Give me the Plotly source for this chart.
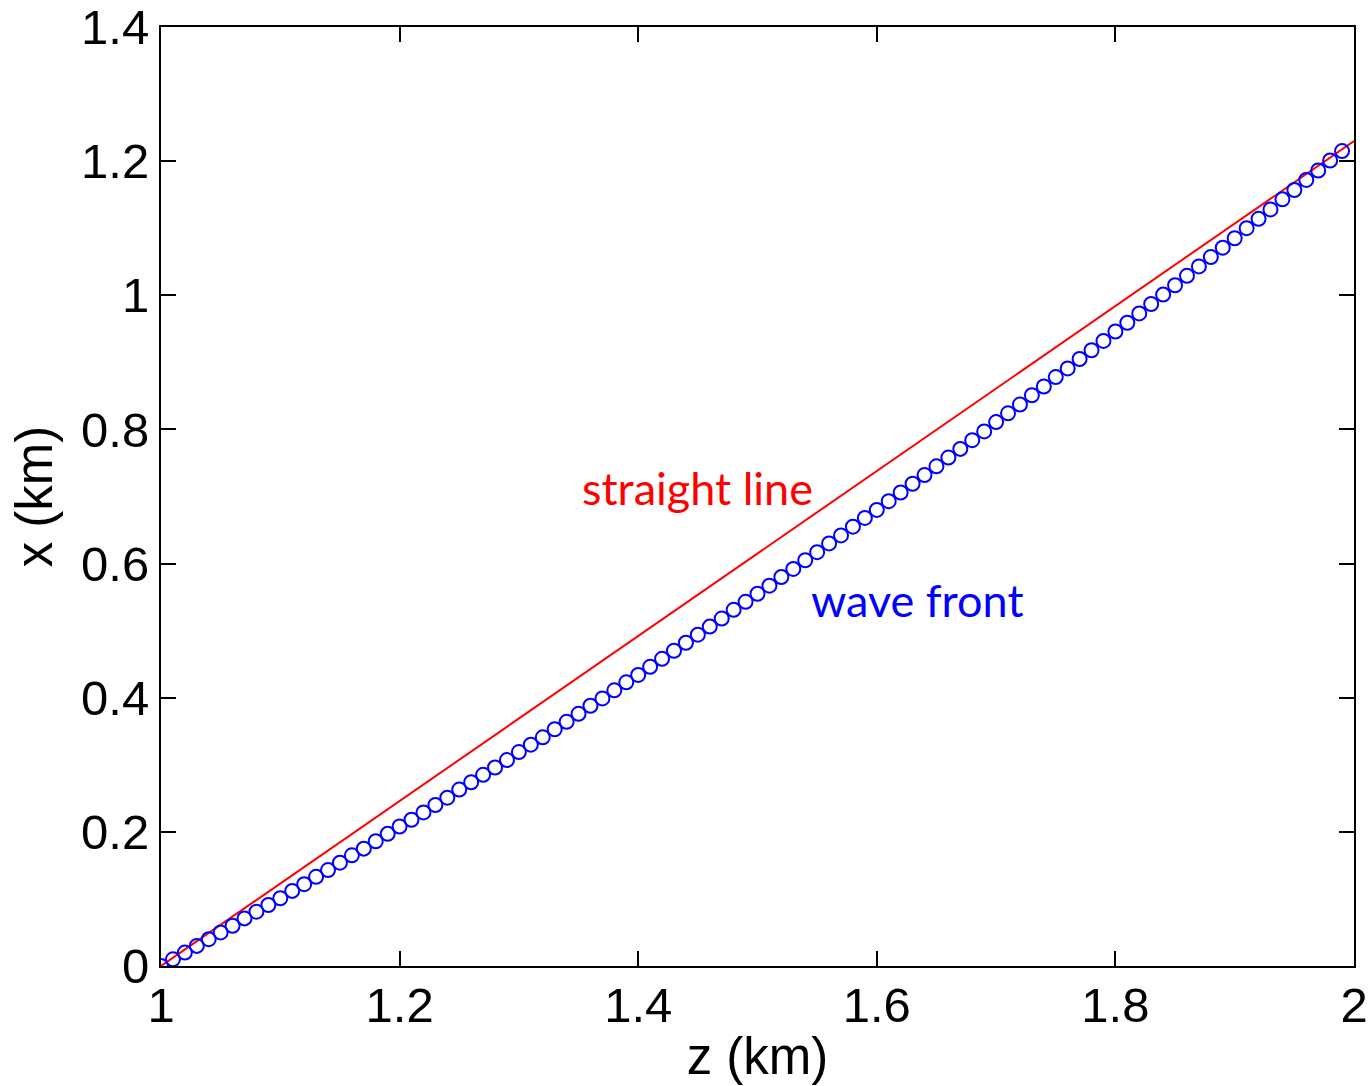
import plotly.graph_objects as go

# Sampled wave-front positions: depth z (km) and lateral offset x (km)
z_front = [round(1.0 + 0.01 * i, 2) for i in range(100)]
x_front = [
    0.000, 0.010, 0.020, 0.030, 0.040, 0.050, 0.060, 0.071, 0.081, 0.091,
    0.101, 0.112, 0.122, 0.133, 0.143, 0.154, 0.165, 0.175, 0.186, 0.197,
    0.208, 0.218, 0.229, 0.240, 0.251, 0.263, 0.274, 0.285, 0.296, 0.307,
    0.319, 0.330, 0.341, 0.353, 0.364, 0.376, 0.388, 0.399, 0.411, 0.423,
    0.434, 0.446, 0.458, 0.470, 0.482, 0.494, 0.506, 0.518, 0.531, 0.543,
    0.555, 0.567, 0.580, 0.592, 0.605, 0.617, 0.630, 0.642, 0.655, 0.668,
    0.680, 0.693, 0.706, 0.719, 0.732, 0.745, 0.758, 0.771, 0.784, 0.797,
    0.811, 0.824, 0.837, 0.851, 0.864, 0.878, 0.891, 0.905, 0.918, 0.932,
    0.946, 0.959, 0.973, 0.987, 1.001, 1.015, 1.029, 1.043, 1.057, 1.071,
    1.085, 1.100, 1.114, 1.128, 1.143, 1.157, 1.172, 1.186, 1.201, 1.215,
]

# Straight reference line between the end points
z_line = [1.0, 2.0]
x_line = [0.0, 1.23]

x_ticks = [1.0, 1.2, 1.4, 1.6, 1.8, 2.0]
x_tick_text = ["1", "1.2", "1.4", "1.6", "1.8", "2"]
y_ticks = [0.0, 0.2, 0.4, 0.6, 0.8, 1.0, 1.2, 1.4]
y_tick_text = ["0", "0.2", "0.4", "0.6", "0.8", "1", "1.2", "1.4"]

fig = go.Figure()
fig.add_trace(go.Scatter(
    x=z_line, y=x_line, mode="lines",
    line=dict(color="#ff0000", width=2),
    showlegend=False, hoverinfo="skip",
))
fig.add_trace(go.Scatter(
    x=z_front, y=x_front, mode="markers",
    marker=dict(symbol="circle-open", size=14, color="#0000ff",
                line=dict(color="#0000ff", width=2)),
    showlegend=False,
))

fig.add_annotation(x=1.4497, y=0.713, text="straight line", showarrow=False,
                   font=dict(family="Lato", size=45, color="#ff0000"))
fig.add_annotation(x=1.634, y=0.545, text="wave front", showarrow=False,
                   font=dict(family="Lato", size=45, color="#0000ff"))

axis_common = dict(
    showgrid=False, zeroline=False, automargin=False,
    showline=True, linecolor="black", linewidth=2, mirror="ticks",
    ticks="inside", ticklen=15, tickwidth=2, tickcolor="black",
    tickfont=dict(family="Liberation Sans", size=49, color="black"),
)

fig.update_xaxes(
    range=[1.0, 2.0], tickvals=x_ticks, ticktext=x_tick_text,
    ticklabelstandoff=-5,
    title=dict(text="z (km)", standoff=8,
               font=dict(family="Liberation Sans", size=51, color="black")),
    **axis_common,
)
fig.update_yaxes(
    range=[0.0, 1.4], tickvals=y_ticks, ticktext=y_tick_text,
    title=dict(text="x (km)", standoff=12,
               font=dict(family="Liberation Sans", size=51, color="black")),
    **axis_common,
)

fig.update_layout(
    width=1372, height=1086,
    margin=dict(l=161, r=18, t=27, b=120),
    paper_bgcolor="white", plot_bgcolor="white",
)

fig.write_html("out.html")
